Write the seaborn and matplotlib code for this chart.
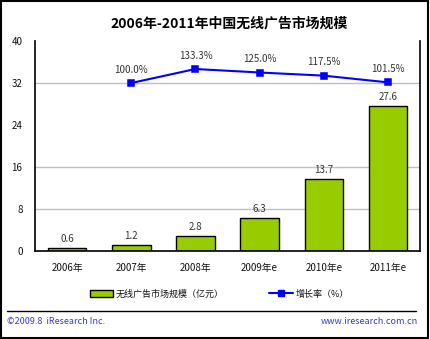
import matplotlib
matplotlib.use("Agg")
import matplotlib.pyplot as plt
import seaborn as sns
import pandas as pd
from matplotlib.lines import Line2D
from matplotlib.patches import Rectangle, Patch

# Chart data
years = ["2006年", "2007年", "2008年", "2009年e", "2010年e", "2011年e"]
market_size = [0.6, 1.2, 2.8, 6.3, 13.7, 27.6]          # 亿元
growth_years = ["2007年", "2008年", "2009年e", "2010年e", "2011年e"]
growth_rate = [100.0, 133.3, 125.0, 117.5, 101.5]        # %
y_ticks = [0, 8, 16, 24, 32, 40]
grid_levels = [8, 16, 32]

BAR_GREEN = "#99CC00"
LINE_BLUE = "#0000FF"
FOOT_BLUE = "#3A3AC8"

sns.set_style("white")
plt.rcParams["font.family"] = ["Noto Sans CJK SC", "DejaVu Sans"]
plt.rcParams["text.color"] = "black"

fig = plt.figure(figsize=(4.3, 3.39), dpi=100)
ax = fig.add_axes([35 / 430, 1 - 251 / 339, 385 / 430, 210 / 339])

df_bar = pd.DataFrame({"year": years, "size": market_size})
sns.barplot(data=df_bar, x="year", y="size", order=years, color=BAR_GREEN,
            saturation=1, edgecolor="black", linewidth=1, width=0.6, ax=ax,
            zorder=2)
ax.bar_label(ax.containers[0], fmt="{:.1f}", padding=3, fontsize=7,
             color="#333333")

for g in grid_levels:
    ax.axhline(g, color="#C0C0C0", lw=1, zorder=0.5)

ax.set_ylim(0, 40)
ax.set_xlim(-0.5, len(years) - 0.5)
ax.set_yticks(y_ticks)
ax.set_xlabel("")
ax.set_ylabel("")
ax.tick_params(axis="both", length=0, labelsize=7, colors="#111111")
ax.tick_params(axis="y", pad=9)
ax.tick_params(axis="x", pad=9)
for side in ("left", "bottom", "right"):
    ax.spines[side].set_visible(True)
    ax.spines[side].set_color("black")
    ax.spines[side].set_linewidth(1.2)
ax.spines["top"].set_visible(False)

# Growth-rate line on a hidden secondary axis
ax2 = ax.twinx()
df_line = pd.DataFrame({"year": growth_years, "rate": growth_rate})
sns.pointplot(data=df_line, x="year", y="rate", order=years, color=LINE_BLUE,
              markers="s", markersize=5, linewidth=1.5, errorbar=None, ax=ax2)
ax2.set_ylim(-300, 200)
ax2.set_xlim(-0.5, len(years) - 0.5)
ax2.set_yticks([])
ax2.set_ylabel("")
ax2.set_xlabel("")
for s in ax2.spines.values():
    s.set_visible(False)
for yr, r in zip(growth_years, growth_rate):
    ax2.annotate(f"{r:.1f}%", xy=(years.index(yr), r), xytext=(0, 6),
                 textcoords="offset points", ha="center", va="bottom",
                 fontsize=7, color="#333333")

fig.text(0.533, 1 - 23 / 339, "2006年-2011年中国无线广告市场规模",
         ha="center", va="center", fontsize=10, fontweight="bold",
         color="black")

handles = [
    Patch(facecolor=BAR_GREEN, edgecolor="black", linewidth=1,
          label="无线广告市场规模（亿元）"),
    Line2D([], [], color=LINE_BLUE, marker="s", markersize=5, lw=1.5,
           label="增长率（%）"),
]
fig.legend(handles=handles, loc="center", bbox_to_anchor=(0.51, 1 - 294 / 339),
           ncol=2, frameon=False, fontsize=6.5, handlelength=2.6,
           columnspacing=5, handletextpad=0.3, labelcolor="#111111")

fig.add_artist(Line2D([7 / 430, 416 / 430], [1 - 311 / 339] * 2,
                      transform=fig.transFigure, color="black", lw=1))
fig.text(7 / 430, 1 - 322 / 339, "©2009.8  iResearch Inc.", ha="left",
         va="center", fontsize=6.5, color=FOOT_BLUE)
fig.text(418 / 430, 1 - 322 / 339, "www.iresearch.com.cn", ha="right",
         va="center", fontsize=6.5, color=FOOT_BLUE)

fig.add_artist(Rectangle((0.002, 0.003), 0.993, 0.994, transform=fig.transFigure,
                         fill=False, edgecolor="black", lw=1.5))

fig.savefig("out.png", dpi=100)
